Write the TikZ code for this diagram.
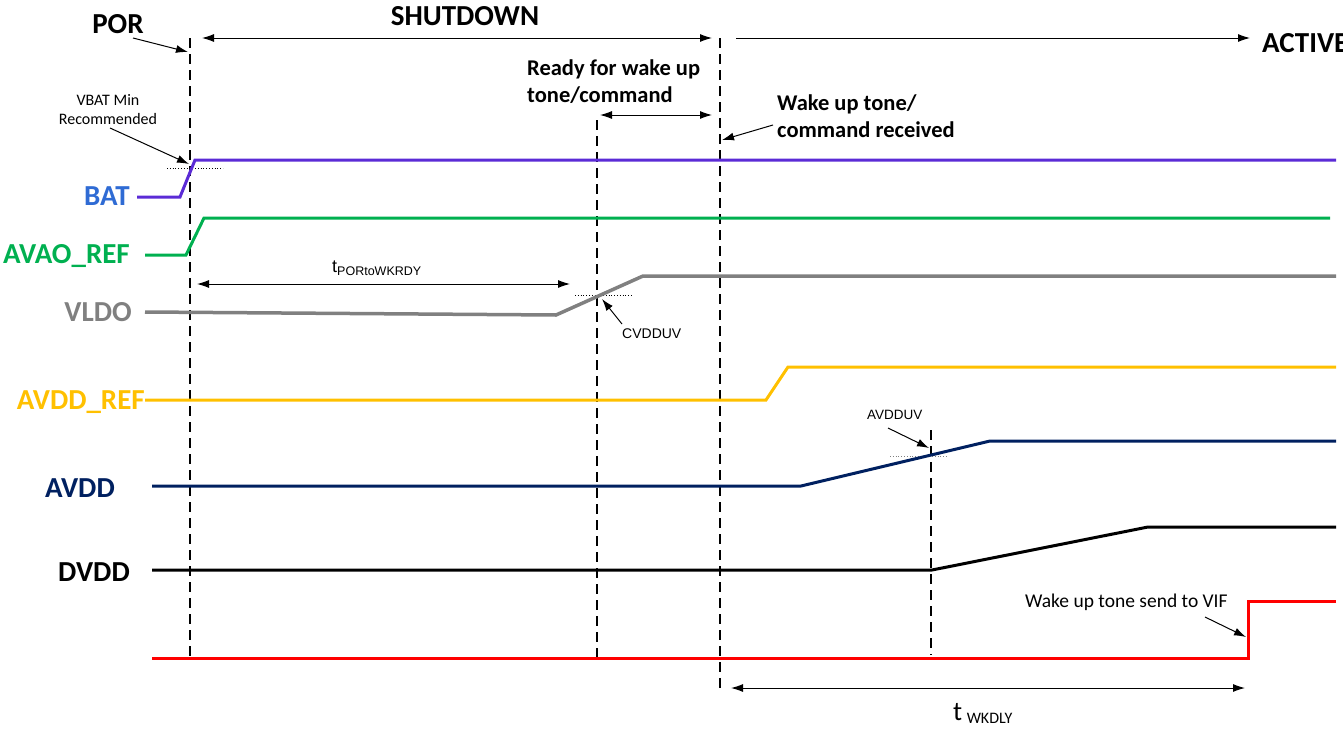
\documentclass[tikz,border=0pt]{standalone}
\usepackage{fontspec}
\setmainfont{Carlito}
\newfontfamily\arialf{Liberation Sans}
\usetikzlibrary{arrows.meta}
\definecolor{batlbl}{HTML}{2F6BD4}
\definecolor{batline}{HTML}{5B2BD6}
\definecolor{sgreen}{HTML}{00B050}
\definecolor{sgray}{HTML}{808080}
\definecolor{syellow}{HTML}{FFC000}
\definecolor{snavy}{HTML}{002060}
\definecolor{sred}{HTML}{FF0000}
\begin{document}
\begin{tikzpicture}[x=1pt,y=-1pt,
  sig/.style={line width=3pt, line join=miter},
  guide/.style={dash pattern=on 10pt off 6pt, line width=1.5pt},
  dim/.style={line width=1pt, {Latex[length=12pt,width=8pt]}-{Latex[length=12pt,width=8pt]}},
  ptr/.style={line width=1pt, -{Latex[length=12pt,width=8pt]}},
  lvl/.style={dotted, line width=0.8pt},
  biglbl/.style={font=\fontsize{29}{31}\selectfont\bfseries, inner sep=0pt, anchor=base east},
  headlbl/.style={font=\fontsize{29}{31}\selectfont\bfseries, inner sep=0pt},
  midlbl/.style={font=\fontsize{22.5}{26.5}\selectfont\bfseries, inner sep=0pt, anchor=base west, align=left},
  smalllbl/.style={inner sep=0pt, anchor=base west}]
\useasboundingbox (0,0) rectangle (1343,728);

% guide lines
\draw[guide] (190,38) coordinate (g1t) -- (190,658) coordinate (g1b);
\draw[guide] (597,120) coordinate (g2t) -- (597,658) coordinate (g2b);
\draw[guide] (720,38) coordinate (g3t) -- (720,690) coordinate (g3b);
\draw[guide] (931,430) coordinate (g4t) -- (931,655) coordinate (g4b);

% level markers
\draw[lvl] (167,168) coordinate (v1) -- (223,168) coordinate (v2);
\draw[lvl] (575,295) coordinate (c1) -- (633,295) coordinate (c2);
\draw[lvl, sgray] (890,456) coordinate (a1) -- (948,456) coordinate (a2);

% signals
\draw[sig, batline] (137,197) -- (180,197) -- (195,160) -- (1336,160);
\draw[sig, sgreen] (145,255) -- (186,255) -- (204,218) -- (1330,218);
\draw[sig, sgray, line width=3.5pt] (145,312) -- (556,315) -- (643,276) -- (1336,276);
\draw[sig, syellow] (145,400) -- (766,400) -- (788,367) -- (1336,367);
\draw[sig, snavy] (152,486) -- (801,486) -- (990,441) -- (1336,441);
\draw[sig, black] (152,570) -- (932,570) -- (1148,527) -- (1336,527);
\draw[sig, sred] (152,658) -- (1248,658) -- (1248,601) -- (1336,601);

% signal labels
\node[biglbl, text=batlbl] (lbat) at (130,205) {BAT};
\node[biglbl, text=sgreen] (lavao) at (130,263) {AVAO\_REF};
\node[biglbl, text=sgray] (lvldo) at (132,321) {VLDO};
\node[biglbl, text=syellow] (lavddref) at (145,409) {AVDD\_REF};
\node[biglbl, text=snavy] (lavdd) at (115,497) {AVDD};
\node[biglbl, text=black] (ldvdd) at (130,581) {DVDD};

% top states
\node[headlbl, anchor=base] (por) at (118,33) {POR};
\node[headlbl, anchor=base] (shut) at (465,25) {SHUTDOWN};
\node[headlbl, anchor=base west] (act) at (1262,52) {ACTIVE};
\coordinate (s1) at (202,38);
\coordinate (s2) at (712,38);
\coordinate (s3) at (736,38);
\coordinate (s4) at (1250,38);
\draw[dim] (s1) -- (s2);
\draw[ptr] (s3) -- (s4);
\coordinate (porA) at (133,38);
\coordinate (porB) at (188,52);
\draw[ptr] (porA) -- (porB);

% VBAT min
\node[inner sep=0pt, align=center, font=\fontsize{16}{18.5}\selectfont, anchor=base] (vbat) at (108,124) {VBAT Min\\Recommended};
\coordinate (vbA) at (110,128);
\coordinate (vbB) at (189,164);
\draw[ptr] (vbA) -- (vbB);

% ready for wake up
\node[midlbl] (ready) at (527,102) {Ready for wake up\\tone/command};
\coordinate (r1) at (600,115);
\coordinate (r2) at (712,115);
\draw[dim] (r1) -- (r2);

% wake up received
\node[midlbl] (recv) at (777,137) {Wake up tone/\\command received};
\coordinate (wA) at (773,125);
\coordinate (wB) at (722,140);
\draw[ptr] (wA) -- (wB);

% tPORtoWKRDY
\node[smalllbl, font=\arialf] (tpor) at (332,272) {\fontsize{18}{20}\selectfont t\raisebox{-3pt}{\fontsize{12.5}{14}\selectfont PORtoWKRDY}};
\coordinate (tp1) at (197,284);
\coordinate (tp2) at (570,284);
\draw[dim] (tp1) -- (tp2);

% CVDDUV
\node[smalllbl, font=\arialf\fontsize{14}{16}\selectfont] (cvdd) at (622,338) {CVDDUV};
\coordinate (cA) at (622,324);
\coordinate (cB) at (602,299);
\draw[ptr] (cA) -- (cB);

% AVDDUV
\node[smalllbl, font=\arialf\fontsize{13.5}{16}\selectfont] (avdduv) at (867,419) {AVDDUV};
\coordinate (aA) at (888,428);
\coordinate (aB) at (929,448);
\draw[ptr] (aA) -- (aB);

% wake up tone send
\node[smalllbl, font=\fontsize{19.5}{22}\selectfont] (vif) at (1025,607) {Wake up tone send to VIF};
\coordinate (vA) at (1205,617);
\coordinate (vB) at (1246,637);
\draw[ptr] (vA) -- (vB);

% tWKDLY
\coordinate (wk1) at (731,688);
\coordinate (wk2) at (1245,688);
\draw[dim] (wk1) -- (wk2);
\node[smalllbl] (twk) at (953,720) {\fontsize{27}{30}\selectfont t\,\raisebox{-3pt}{\fontsize{16}{18}\selectfont WKDLY}};
\end{tikzpicture}
\end{document}
